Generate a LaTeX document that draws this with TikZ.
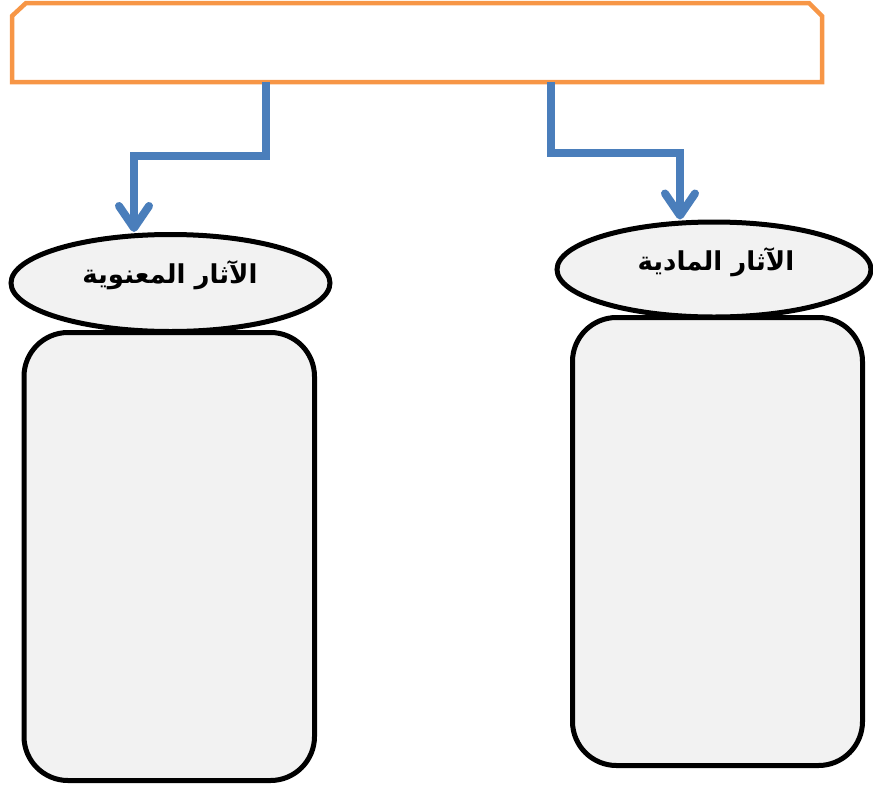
\documentclass[tikz,border=0pt]{standalone}
\usepackage{fontspec}
\newfontfamily\arabicfont[Script=Arabic]{DejaVu Sans}
\TeXXeTstate=1
\usepackage{xcolor}
\definecolor{framecolor}{RGB}{247,150,70}
\definecolor{linkcolor}{RGB}{74,126,187}
\definecolor{panelfill}{RGB}{242,242,242}
\usetikzlibrary{arrows.meta, shapes.geometric}

\begin{document}
\begin{tikzpicture}[x=1pt,y=-1pt,
  link/.style={draw=linkcolor, line width=8pt,
    -{Straight Barb[length=22pt,width=30pt,round]}},
  effect/.style={ellipse, draw, line width=5pt, fill=panelfill, inner sep=0pt},
  label text/.style={font=\arabicfont\bfseries\fontsize{26}{30}\selectfont, inner sep=0pt},
  panel/.style={draw, line width=5pt, fill=panelfill, rounded corners=44pt}]
  \useasboundingbox (0,0) rectangle (873,785);
  % top frame
  \draw[framecolor, line width=4.5pt] (12,82) coordinate(f1) -- (12,16) -- (26,3)
    -- (809,3) -- (822,16) -- (822,82) coordinate(f2) -- cycle;
  \path (f1) -- (f2) coordinate[pos=0.314](s1) coordinate[pos=0.666](s2);
  % ellipses, then panels over them
  \node[effect, minimum width=319pt, minimum height=97pt] (moral) at (170.5,283) {};
  \node[effect, minimum width=314pt, minimum height=95pt] (material) at (714,269.5) {};
  \node[panel, minimum width=290.5pt, minimum height=448pt] (lbox) at (169.25,556.5) {};
  \node[panel, minimum width=290pt, minimum height=448pt] (rbox) at (717.5,541.5) {};
  \node[label text] (moraltext) at (170,275) {\beginR الآثار المعنوية\endR};
  \node[label text] (materialtext) at (716,262) {\beginR الآثار المادية\endR};
  % links
  \coordinate (b1) at (134,156);
  \coordinate (b2) at (680,153);
  \draw[link] (s1) |- (b1) -- (b1 |- moral.north);
  \draw[link] (s2) |- (b2) -- (b2 |- material.north);
\end{tikzpicture}
\end{document}
